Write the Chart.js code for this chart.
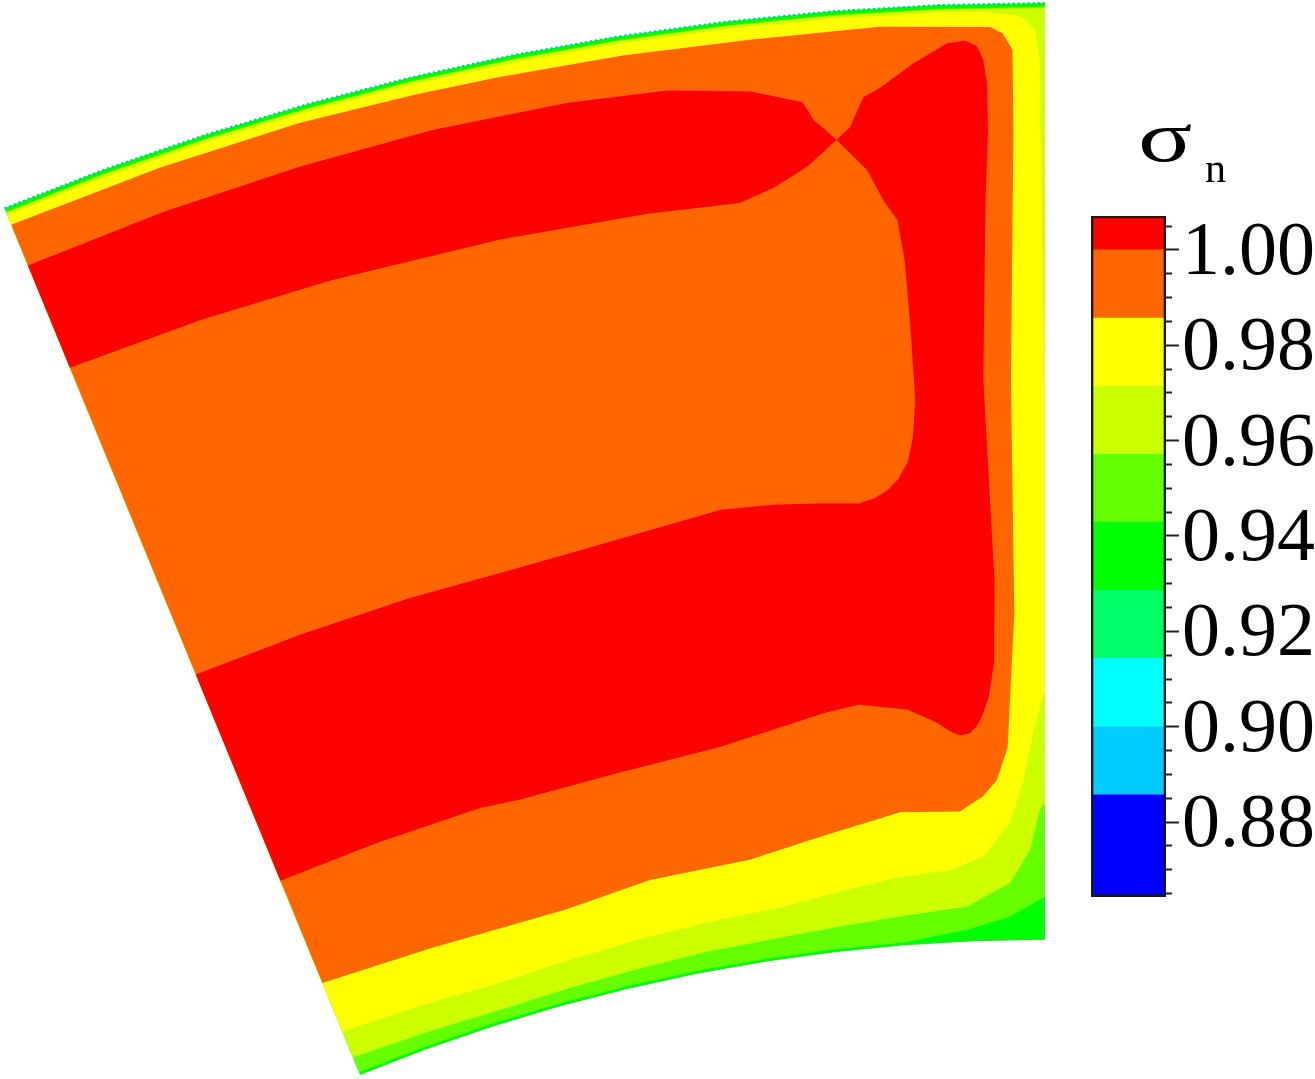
<!DOCTYPE html>
<html>
  <head>
    <title>sigma_n contour</title>
    <script src="https://cdn.jsdelivr.net/npm/chart.js@4.4.1/dist/chart.umd.min.js"></script>
    <style>
      body { margin: 0; background: #fff; }
      .wrap { position: relative; width: 1315px; height: 1079px; overflow: hidden; background: #fff; }
      #contour { position: absolute; left: 0; top: 0; }
      #legend { position: absolute; left: 1080px; top: 196px; }
      .sym { position: absolute; font-family: "Liberation Serif", serif; color: #000; line-height: 1; transform-origin: left top; }
    </style>
  </head>
  <body>
    <div class="wrap">
      <canvas id="contour" width="1315" height="1079"></canvas>
      <canvas id="legend" width="235" height="724"></canvas>
      <div class="sym" style="left:1138px; top:101px; font-size:72px; transform: scaleX(1.4)">σ</div>
      <div class="sym" style="left:1205px; top:147px; font-size:42px">n</div>
    </div>
    <script>
      // passage section: pitch fraction 0 = left wall, 1 = right wall; span fraction 0 = hub, 1 = tip
      var PITCH_DEG = 22.31;
      var R_HUB = 0.6582;

      var pitchStations = [0, 0.1, 0.2, 0.3, 0.4, 0.5, 0.6, 0.7, 0.8, 0.9, 1];

      // colour levels of the legend (sigma_n)
      var levels = [0.8643, 0.8857, 0.9000, 0.9143, 0.9286, 0.9429, 0.9571, 0.9714, 0.9857, 1.0000, 1.0071];
      var levelColors = ['#0000ff', '#00ccff', '#00ffff', '#00ff66', '#00ff00', '#66ff00', '#ccff00', '#ffff00', '#ff6600', '#ff0000'];

      // legend ticks: labelled ones and the small ones in between
      var majorTicks = [0.88, 0.90, 0.92, 0.94, 0.96, 0.98, 1.00];
      var legendTicks = [0.865, 0.870, 0.875, 0.880, 0.885, 0.890, 0.895, 0.900, 0.905, 0.910, 0.915, 0.920, 0.925, 0.930, 0.935,
                         0.940, 0.945, 0.950, 0.955, 0.960, 0.965, 0.970, 0.975, 0.980, 0.985, 0.990, 0.995, 1.000, 1.005];

      // sigma_n >= 0.9429
      var lv5Pitch = [0, 0.1, 0.2, 0.3, 0.4, 0.5, 0.6, 0.7, 0.8, 0.841, 0.890, 0.951, 0.993, 1, 1, 0.9, 0.8, 0.7, 0.6, 0.5, 0.4, 0.3, 0.2, 0.1, 0];
      var lv5Span  = [0.003, 0.003, 0.003, 0.003, 0.003, 0.003, 0.003, 0.003, 0.003, 0.007, 0.0125, 0.025, 0.043, 0.046, 0.996, 0.996, 0.996, 0.996, 0.996, 0.996, 0.996, 0.996, 0.996, 0.996, 0.996];

      // sigma_n >= 0.9571
      var lv6Pitch = [0, 0.11, 0.218, 0.32, 0.414, 0.52, 0.63, 0.72, 0.797, 0.891, 0.952, 0.980, 0.993, 1, 1, 0.9, 0.8, 0.7, 0.6, 0.5, 0.4, 0.3, 0.2, 0.1, 0];
      var lv6Span  = [0.020, 0.017, 0.0145, 0.016, 0.018, 0.021, 0.023, 0.027, 0.031, 0.037, 0.061, 0.096, 0.139, 0.146, 0.995, 0.995, 0.995, 0.995, 0.995, 0.995, 0.995, 0.995, 0.995, 0.995, 0.995];

      // sigma_n >= 0.9714
      var lv7Pitch = [0, 0.11, 0.229, 0.33, 0.44, 0.54, 0.636, 0.72, 0.801, 0.87, 0.916, 0.953, 0.971, 0.985, 1, 1, 0.998, 0.996, 0.995, 0.991, 0.977, 0.944, 0.9, 0.8, 0.7, 0.6, 0.5, 0.4, 0.3, 0.2, 0.1, 0];
      var lv7Span  = [0.050, 0.046, 0.042, 0.045, 0.049, 0.052, 0.055, 0.064, 0.073, 0.077, 0.090, 0.125, 0.168, 0.221, 0.267, 0.576, 0.683, 0.843, 0.939, 0.971, 0.986, 0.991, 0.992, 0.992, 0.992, 0.992, 0.992, 0.992, 0.992, 0.992, 0.992, 0.992];

      // sigma_n >= 0.9857
      var lv8Pitch = [0, 0.156, 0.344, 0.464, 0.601, 0.698, 0.808, 0.887, 0.918, 0.937, 0.952, 0.963, 0.963, 0.969, 0.969, 0.960, 0.948, 0.844, 0.721, 0.6, 0.482, 0.4, 0.289, 0.15, 0];
      var lv8Span  = [0.106, 0.100, 0.098, 0.108, 0.110, 0.124, 0.142, 0.139, 0.154, 0.171, 0.206, 0.349, 0.598, 0.865, 0.950, 0.968, 0.975, 0.980, 0.978, 0.979, 0.980, 0.981, 0.983, 0.982, 0.981];

      // sigma_n >= 1.00, band near the tip (ends at the saddle)
      var lv9aPitch = [0, 0.14, 0.277, 0.409, 0.540, 0.637, 0.716, 0.765, 0.774, 0.795, 0.764, 0.728, 0.693, 0.6, 0.45, 0.277, 0.14, 0];
      var lv9aSpan  = [0.934, 0.936, 0.938, 0.940, 0.939, 0.935, 0.923, 0.906, 0.886, 0.863, 0.837, 0.818, 0.806, 0.808, 0.810, 0.812, 0.814, 0.816];

      // sigma_n >= 1.00, lower band + right-hand strip
      var lv9bPitch = [0, 0.13, 0.26, 0.392, 0.467, 0.630, 0.690, 0.740, 0.787, 0.805, 0.821, 0.834, 0.846, 0.853, 0.858, 0.857, 0.855, 0.850, 0.837, 0.823, 0.795,
                       0.809, 0.824, 0.841, 0.874, 0.907, 0.924, 0.935, 0.941, 0.944, 0.944, 0.940, 0.933, 0.940, 0.937, 0.930, 0.922, 0.913, 0.904, 0.892, 0.881, 0.866, 0.852, 0.826,
                       0.766, 0.723, 0.587, 0.452, 0.323, 0.271, 0.13, 0];
      var lv9bSpan  = [0.462, 0.462, 0.463, 0.464, 0.468, 0.484, 0.482, 0.478, 0.474, 0.478, 0.486, 0.497, 0.515, 0.540, 0.580, 0.666, 0.730, 0.773, 0.795, 0.828, 0.863,
                       0.875, 0.906, 0.915, 0.939, 0.959, 0.961, 0.955, 0.940, 0.915, 0.865, 0.791, 0.599, 0.385, 0.296, 0.262, 0.243, 0.229, 0.222, 0.220, 0.224, 0.233, 0.240, 0.251,
                       0.260, 0.255, 0.234, 0.227, 0.224, 0.227, 0.225, 0.224];

      function toXY(p, s) {
        var th = -PITCH_DEG * (1 - p) * Math.PI / 180;
        var r = R_HUB + s * (1 - R_HUB);
        return { x: r * Math.sin(th), y: r * Math.cos(th) };
      }

      function region(label, pitch, span, color, order) {
        return {
          label: label,
          data: pitch.map(function (p, i) { return toXY(p, span[i]); }),
          showLine: true,
          fill: 'shape',
          backgroundColor: color,
          borderColor: color,
          borderWidth: 0,
          pointRadius: 0,
          pointHoverRadius: 0,
          order: order
        };
      }

      // whole passage (hub arc, right wall, tip arc, left wall)
      var wallPitch = pitchStations.concat(pitchStations.slice().reverse());
      var wallSpan = pitchStations.map(function () { return 0; }).concat(pitchStations.map(function () { return 1; }));

      var datasets = [
        region('passage', wallPitch, wallSpan, levelColors[4], 10),
        region('0.9429', lv5Pitch, lv5Span, levelColors[5], 9),
        region('0.9571', lv6Pitch, lv6Span, levelColors[6], 8),
        region('0.9714', lv7Pitch, lv7Span, levelColors[7], 7),
        region('0.9857', lv8Pitch, lv8Span, levelColors[8], 6),
        region('1.00 a', lv9aPitch, lv9aSpan, levelColors[9], 5),
        region('1.00 b', lv9bPitch, lv9bSpan, levelColors[9], 5),
        {
          label: 'tip',
          data: pitchStations.map(function (p) { return toXY(p, 1); }),
          showLine: true,
          fill: false,
          borderColor: '#3399ff',
          borderWidth: 2,
          borderDash: [2, 3],
          pointRadius: 0,
          order: -1
        }
      ];

      new Chart(document.getElementById('contour'), {
        type: 'scatter',
        data: { datasets: datasets },
        options: {
          responsive: false,
          animation: false,
          events: [],
          layout: { padding: 0 },
          plugins: { legend: { display: false }, tooltip: { enabled: false } },
          scales: {
            x: { type: 'linear', display: false, min: -0.38125, max: 0.0985, bounds: 'data' },
            y: { type: 'linear', display: false, min: 0.60744, max: 1.00109, bounds: 'data' }
          }
        }
      });

      // colour bar
      function isMajor(v) {
        return majorTicks.some(function (m) { return Math.abs(m - v) < 1e-6; });
      }

      var bars = levelColors.map(function (c, i) {
        return {
          label: levels[i] + '-' + levels[i + 1],
          data: [[levels[i], levels[i + 1]]],
          backgroundColor: c,
          borderWidth: 0,
          grouped: false,
          barPercentage: 1,
          categoryPercentage: 1,
          order: 1
        };
      });
      bars.push({
        label: 'frame',
        data: [[levels[0], levels[levels.length - 1]]],
        backgroundColor: 'rgba(0,0,0,0)',
        borderColor: '#1a1a1a',
        borderWidth: 2,
        borderSkipped: false,
        grouped: false,
        barPercentage: 1,
        categoryPercentage: 1,
        order: 0
      });

      new Chart(document.getElementById('legend'), {
        type: 'bar',
        data: { labels: ['σn'], datasets: bars },
        options: {
          responsive: false,
          animation: false,
          events: [],
          layout: { padding: { left: 11, right: 0, top: 20, bottom: 23 } },
          plugins: { legend: { display: false }, tooltip: { enabled: false } },
          scales: {
            x: { display: false },
            y: {
              position: 'right',
              min: levels[0],
              max: levels[levels.length - 1],
              bounds: 'data',
              border: { display: false },
              afterBuildTicks: function (scale) {
                scale.ticks = legendTicks.map(function (v) { return { value: v }; });
              },
              afterFit: function (scale) { scale.width = 149; },
              grid: {
                drawOnChartArea: false,
                drawTicks: true,
                tickLength: 13,
                tickColor: '#222',
                tickWidth: 2,
                tickBorderDash: function (ctx) { return ctx.tick && isMajor(ctx.tick.value) ? [] : [6, 30]; }
              },
              ticks: {
                autoSkip: false,
                padding: 3,
                labelOffset: 4,
                color: '#000',
                font: { family: 'Liberation Serif', size: 76, lineHeight: 0.01 },
                callback: function (v) { return isMajor(v) ? v.toFixed(2) : ''; }
              }
            }
          }
        }
      });
    </script>
  </body>
</html>
